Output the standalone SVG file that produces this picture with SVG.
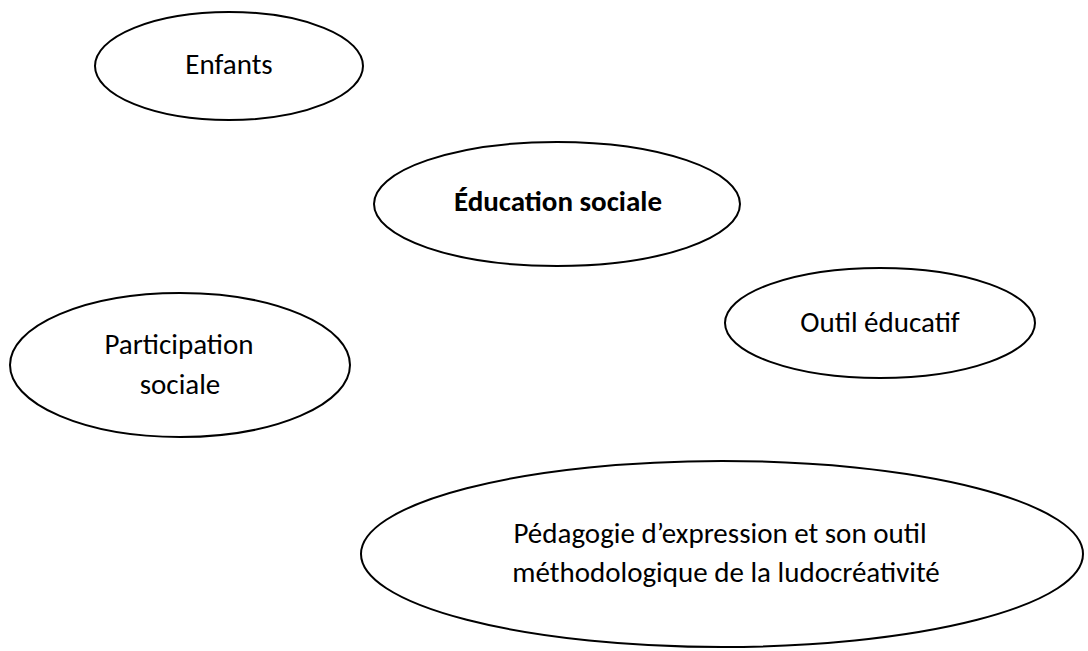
<svg xmlns="http://www.w3.org/2000/svg" width="1088" height="651" viewBox="0 0 1088 651">
<style>
.n{fill:#fff;stroke:#000;stroke-width:2}
.t{font-family:Carlito,Lato,"Liberation Sans",sans-serif;font-size:29px;fill:#000;text-anchor:middle}
.b{font-weight:bold}
</style>
<rect width="1088" height="651" fill="#fff"/>
<g id="connectors"></g>
<g id="enfants"><ellipse class="n" cx="229" cy="66" rx="134" ry="54"/><text class="t" x="229" y="74">Enfants</text></g>
<g id="education-sociale"><ellipse class="n" cx="557" cy="204" rx="183" ry="62"/><text class="t b" x="558" y="211">Éducation sociale</text></g>
<g id="participation-sociale"><ellipse class="n" cx="180" cy="365" rx="170" ry="72"/><text class="t" x="179" y="354">Participation</text><text class="t" x="180" y="394">sociale</text></g>
<g id="outil-educatif"><ellipse class="n" cx="880" cy="323" rx="155" ry="55"/><text class="t" x="880" y="332">Outil éducatif</text></g>
<g id="pedagogie"><ellipse class="n" cx="722" cy="554" rx="361" ry="93"/><text class="t" x="720" y="543">Pédagogie d’expression et son outil</text><text class="t" x="726" y="582">méthodologique de la ludocréativité</text></g>
</svg>
